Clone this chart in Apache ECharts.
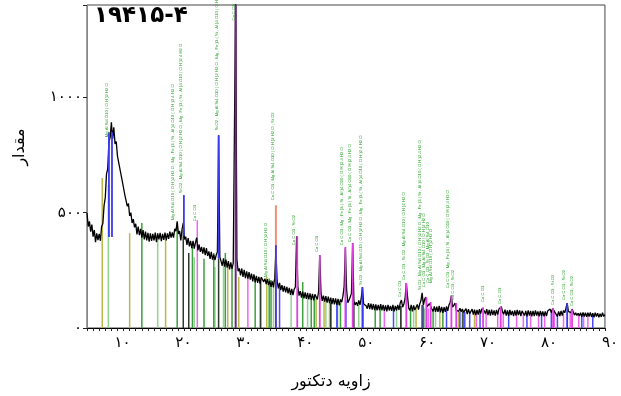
<!DOCTYPE html>
<html>
<head>
<meta charset="utf-8">
<script src="https://cdn.jsdelivr.net/npm/echarts@6.0.0/dist/echarts.min.js"></script>
<style>
  html, body { margin: 0; padding: 0; background: #fff; }
  #chart { width: 621px; height: 396px; }
</style>
</head>
<body>
<div id="chart"></div>
<script>
// scan: 2theta from 5 to 90 deg, one reading every 0.2 deg
const angleStart = 5
const angleStep = 0.2
const counts = [
  498, 440, 462, 418, 448,  396, 425, 372, 410, 381,  408, 378, 440, 452, 530,
  565, 668, 690, 808, 826,  892, 820, 870, 798, 808,  745, 752, 690, 690, 635,
  640, 578, 585, 528, 540,  486, 500, 455, 472, 436,  452, 406, 440, 402, 430,
  392, 424, 384, 418, 380,  412, 374, 410, 378, 408,  380, 414, 372, 410, 384,
  412, 376, 408, 382, 414,  380, 410, 386, 418, 392,  414, 392, 430, 420, 462,
  408, 420, 380, 428, 456,  384, 396, 360, 390, 354,  378, 346, 378, 344, 370,
  392, 336, 362, 330, 352,  322, 350, 316, 346, 312,  332, 300, 330, 296, 318,
  294, 316, 330, 835, 308,  302, 270, 302, 266, 296,  262, 290, 254, 284, 256,
  282, 290, 1460, 298, 246, 258, 228, 258, 222, 252,  216, 246, 214, 242, 210,
  236, 202, 232, 198, 226,  196, 222, 192, 220, 226,  200, 214, 190, 212, 186,
  204, 178, 202, 176, 214,  338, 204, 172, 196, 164,  186, 158, 182, 154, 178,
  150, 174, 144, 170, 142,  168, 178, 398, 180, 140,  160, 132, 158, 128, 154,
  126, 152, 124, 150, 122,  148, 120, 146, 150, 124,  156, 316, 152, 118, 140,
  114, 138, 110, 136, 108,  132, 104, 130, 102, 128,  100, 126, 98, 124, 112,
  138, 180, 346, 168, 110,  120, 116, 150, 368, 118,  100, 112, 96, 120, 100,
  128, 177, 104, 106, 96,   84, 108, 82, 106, 80,     104, 78, 102, 76, 100,
  78, 104, 76, 100, 74,     98, 72, 100, 76, 96,      74, 100, 72, 96, 76,
  100, 78, 108, 121, 90,    104, 128, 195, 136, 86,   76, 100, 72, 98, 78,
  74, 102, 80, 104, 118,    152, 98, 124, 134, 92,    84, 106, 113, 82, 72,
  94, 70, 92, 70, 96,       68, 92, 66, 90, 70,       94, 74, 100, 112, 140,
  90, 82, 108, 76, 82,      72, 86, 70, 82, 68,       60, 84, 60, 82, 62,
  56, 82, 58, 80, 56,       78, 58, 82, 62, 84,       90, 74, 62, 82, 56,
  78, 54, 80, 56, 76,       54, 78, 58, 82, 88,       92, 70, 60, 80, 54,
  76, 52, 78, 56, 74,       52, 76, 54, 78, 56,       76, 52, 74, 78, 54,
  74, 50, 76, 54, 74,       50, 74, 52, 76, 54,       72, 50, 74, 52, 72,
  50, 72, 52, 74, 70,       82, 66, 84, 88, 68,       74, 50, 72, 52, 74,
  54, 76, 66, 86, 108,      72, 78, 66, 82, 80,       56, 66, 54, 64, 52,
  66, 48, 68, 50, 66,       48, 66, 50, 68, 48,       64, 46, 66, 50, 64,
  46, 62, 48, 66, 50,       58
]

// reference pattern sticks [angle, height]
const oliveSticks = [[7.5, 650], [12.0, 411], [17.9, 381], [28.1, 281], [29.9, 221], [33.4, 216], [34.5, 221],
  [42.6, 134], [43.9, 121], [44.8, 108], [59.0, 90], [62.9, 80], [66.0, 70], [66.6, 72], [68.6, 70]]
const greenSticks = [[14.0, 455], [19.8, 455], [22.3, 351], [24.2, 300], [25.8, 325], [27.7, 325], [28.8, 264],
  [32.6, 208], [34.9, 215], [35.2, 208], [40.4, 199], [41.8, 134], [42.3, 134], [45.0, 112], [46.1, 110],
  [46.6, 108], [50.3, 100], [52.3, 92], [53.1, 90], [56.5, 95], [58.1, 86], [61.8, 82], [63.4, 78]]
const lightGreenSticks = [[8.5, 620], [16.6, 394], [22.6, 307], [26.0, 264], [27.4, 286], [35.6, 208], [38.5, 152],
  [41.2, 134], [44.2, 121], [49.6, 100], [55.8, 88], [58.6, 86], [60.4, 85], [62.2, 80]]
const darkSticks = [[20.8, 424], [21.7, 325], [26.6, 300], [33.5, 208], [45.0, 108], [48.8, 110], [56.5, 95],
  [60.0, 100], [66.7, 72]]
const pinkSticks = [[23.1, 467], [31.4, 221], [53.8, 88], [61.0, 85], [68.9, 70], [70.5, 68], [72.4, 66], [73.3, 70],
  [75.5, 64], [76.6, 64], [77.8, 62], [79.1, 62], [80.1, 62], [81.7, 78], [83.2, 62], [84.3, 70], [85.7, 58],
  [86.5, 58], [87.2, 56]]
const blueSticks = [[36.6, 177], [46.0, 108], [47.5, 120], [55.3, 88], [60.2, 95], [64.0, 78], [66.2, 70], [67.0, 70],
  [67.8, 70], [69.5, 68], [74.2, 64], [77.2, 62], [79.6, 62], [81.2, 66], [82.2, 62], [86.2, 58], [88.0, 56]]

// matched peaks [angle, from, to]
const salmonPeaks = [[36.0, 0, 532]]
const bluePeaks = [[8.6, 394, 848], [9.1, 394, 848], [20.9, 400, 576], [26.6, 300, 835], [36.0, 0, 359],
  [50.2, 0, 177], [83.8, 0, 108]]
const purplePeaks = [[29.4, 0, 1400]]
const magentaPeaks = [[39.5, 0, 398], [43.2, 0, 316], [47.4, 0, 351], [48.6, 0, 368], [57.4, 0, 195], [60.7, 0, 134],
  [61.4, 0, 113], [64.8, 0, 140], [65.6, 0, 108], [70.0, 0, 90], [72.9, 0, 92], [81.5, 0, 87], [84.6, 0, 80]]

// phase labels: angle, intensity at the foot of the text, text
const labelAngles = [8.2, 19.1, 20.4, 22.7, 26.3, 29.05, 34.4, 35.55, 39.0, 42.7, 46.8, 48.2, 49.9,
  56.4, 57.0, 59.6, 60.3, 60.9, 61.4, 64.3, 65.1, 70.0, 72.8, 81.4, 83.3, 84.6]
const labelBases = [827, 468, 584, 463, 857, 1333, 221, 554, 359, 329, 359, 372, 186,
  134, 208, 165, 177, 195, 195, 173, 121, 113, 104, 100, 121, 95]
const clay = 'Mg Al Si4 O10 ( O H )2 H2 O'
const chlorite = 'Mg , Fe )3 ( Si , Al )4 O10 ( O H )2 4 H2 O'
const labelTexts = [
  clay,
  clay + ' ; ' + chlorite,
  'Si O2 ; ' + clay + ' ; ' + chlorite,
  'Ca C O3',
  'Si O2 ; ' + clay + ' ; ' + chlorite,
  'Ca C O3',
  clay,
  'Ca C O3 ; ' + clay + ' ; Si O2',
  'Ca C O3 ; Si O2',
  'Ca C O3',
  'Ca C O3 ; ' + chlorite,
  'Ca C O3 ; ' + chlorite,
  'Si O2 ; ' + clay + ' ; ' + chlorite,
  'Ca C O3',
  'Ca C O3 ; Si O2 ; ' + clay,
  'Si O2 ; ' + clay + ' ; ' + chlorite,
  'Ca C O3 ; ' + clay,
  'Ca C O3 ; Si O2 ; Mg Al Si4 O10',
  clay,
  'Ca C O3 ; ' + chlorite,
  'Ca C O3 ; Si O2',
  'Ca C O3',
  'Ca C O3',
  'Ca C O3 ; Si O2',
  'Ca C O3 ; Si O2',
  'Ca C O3 ; Si O2'
]

const xTickValues = [10, 20, 30, 40, 50, 60, 70, 80, 90]
const xTickLabels = ['۱۰', '۲۰', '۳۰', '۴۰', '۵۰', '۶۰', '۷۰', '۸۰', '۹۰']
const yTickValues = [0, 500, 1000]
const yTickLabels = ['۰', '۵۰۰', '۱۰۰۰']

const chart = echarts.init(document.getElementById('chart'))

const trace = counts.map((c, i) => [+(angleStart + i * angleStep).toFixed(1), c])

function stickSeries(items, color, width, z) {
  return {
    type: 'custom',
    z: z,
    silent: true,
    clip: true,
    encode: { x: 0, y: [1, 2] },
    data: items.map(d => d.length === 2 ? [d[0], 0, d[1]] : d),
    renderItem: (params, api) => {
      const a = api.coord([api.value(0), api.value(1)])
      const b = api.coord([api.value(0), api.value(2)])
      return {
        type: 'line',
        shape: { x1: a[0], y1: a[1], x2: b[0], y2: b[1] },
        style: { stroke: color, lineWidth: width }
      }
    }
  }
}

const font = 'DejaVu Sans'

const option = {
  animation: false,
  grid: { left: 87, right: 11, top: 5, bottom: 68, show: true, borderColor: '#444', borderWidth: 1 },
  xAxis: {
    type: 'value', min: 5, max: 90, interval: 5,
    axisLine: { lineStyle: { color: '#000', width: 1 } },
    axisTick: { length: 3, lineStyle: { color: '#222' } },
    minorTick: { show: true, splitNumber: 5, length: 3, lineStyle: { color: '#222' } },
    splitLine: { show: false },
    axisLabel: {
      margin: 8, fontSize: 15, color: '#000', fontFamily: font, padding: [0, 0, 0, 10],
      formatter: v => {
        const i = xTickValues.indexOf(v)
        return i >= 0 ? xTickLabels[i] : ''
      }
    }
  },
  yAxis: {
    type: 'value', min: 0, max: 1400, interval: 500,
    axisLine: { show: true, lineStyle: { color: '#888', width: 1 } },
    axisTick: { show: true, length: 4, lineStyle: { color: '#222' } },
    splitLine: { show: false },
    axisLabel: {
      margin: 5, fontSize: 15, color: '#000', fontFamily: font,
      formatter: v => {
        const i = yTickValues.indexOf(v)
        return i >= 0 ? yTickLabels[i] : ''
      }
    }
  },
  graphic: [
    { type: 'text', left: 94, top: 5, style: { text: '۱۹۴۱۵-۴', fontSize: 23, fontWeight: 'bold', fontFamily: font, fill: '#000' } },
    { type: 'text', x: 331, y: 382, style: { text: 'زاویه دتکتور', fontSize: 16, fontFamily: font, fill: '#000', align: 'center', verticalAlign: 'middle' } },
    { type: 'text', x: 20, y: 147, rotation: Math.PI / 2, style: { text: 'مقدار', fontSize: 16, fontFamily: font, fill: '#000', align: 'center', verticalAlign: 'middle' } }
  ],
  series: [
    stickSeries(oliveSticks, '#b9b84a', 1.5, 1),
    stickSeries(lightGreenSticks, '#92d292', 1.5, 1),
    stickSeries(greenSticks, '#3e9f3e', 1.5, 1),
    stickSeries(darkSticks, '#2c3a2c', 1.5, 1),
    stickSeries(pinkSticks, '#f066f0', 1.5, 1),
    stickSeries(blueSticks, '#4b4bff', 1.5, 1),
    {
      type: 'line',
      z: 2,
      data: trace,
      showSymbol: false,
      silent: true,
      sampling: 'none',
      lineStyle: { color: '#000', width: 1.3 }
    },
    stickSeries(salmonPeaks, '#f0907a', 2, 3),
    stickSeries(bluePeaks, '#3a3af0', 1.8, 4),
    stickSeries(magentaPeaks, '#e040e0', 1.8, 4),
    stickSeries(purplePeaks, '#6e2a86', 2, 4),
    {
      type: 'custom',
      z: 5,
      silent: true,
      data: labelAngles.map((a, i) => [a, labelBases[i]]),
      renderItem: (params, api) => {
        const p = api.coord([api.value(0), api.value(1)])
        return {
          type: 'text',
          x: p[0], y: p[1],
          rotation: Math.PI / 2,
          style: {
            text: labelTexts[params.dataIndex],
            fill: '#23a023',
            fontSize: 4.2,
            fontFamily: 'Liberation Sans Narrow, Liberation Sans, sans-serif',
            align: 'left',
            verticalAlign: 'middle'
          }
        }
      }
    }
  ]
}

chart.setOption(option)
window.addEventListener('resize', () => chart.resize())
</script>
</body>
</html>
